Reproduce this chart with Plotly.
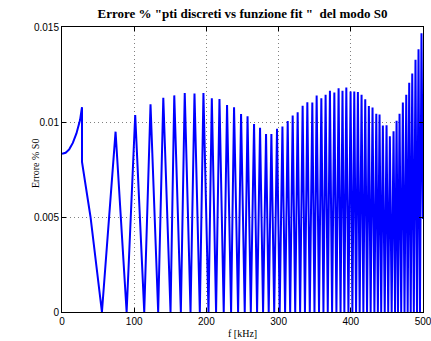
import plotly.graph_objects as go

# frequency [kHz] and error values
f_khz = [0, 5, 10, 15, 20, 25, 27.7, 27.7, 39.5, 55.3,
         74.2, 89.5, 101.4, 113.9, 122.6, 133.2, 140.3, 150.3, 155.5, 164.6,
         170, 178, 183.5, 190.9, 195.9, 202.9, 207.5, 213.4, 218.1, 224,
         228.6, 234.2, 238.3, 243.9, 248, 253.1, 257, 261.5, 266, 270.2,
         274.3, 278.5, 282.6, 286.3, 290, 293.9, 297.8, 301.5, 305.3, 309,
         312.6, 316, 319.5, 323, 326.4, 329.8, 333.3, 336.5, 339.8, 343.2,
         346.7, 349.7, 352.7, 356, 359.2, 362.1, 365.1, 368.1, 371.1, 374.1,
         377.2, 380.1, 383.1, 385.8, 388.5, 391.1, 393.8, 396.7, 399.7, 402.2,
         404.8, 407.3, 409.8, 412.3, 414.9, 417.4, 420, 422.5, 425, 427.5,
         430.1, 432.7, 435.3, 437.5, 439.8, 442.1, 444.4, 447, 449.5, 451.8,
         454.1, 456.6, 459.2, 461.3, 463.4, 465.4, 467.5, 469.8, 472.1, 474.4,
         476.8, 478.8, 480.9, 483, 485.1, 487.3, 489.6, 491.7, 493.8, 495.8,
         497.9, 500]
err_s0 = [0.00832, 0.00838, 0.00856, 0.0089, 0.0094, 0.0101, 0.01078, 0.0079, 0.005, 0.0,
          0.00949, 0.0, 0.01037, 0.0, 0.01093, 0.0, 0.01128, 0.0, 0.0114, 0.0,
          0.01152, 0.0, 0.0115, 0.0, 0.01152, 0.0, 0.01125, 0.0, 0.01121, 0.0,
          0.0109, 0.0, 0.01077, 0.0, 0.01042, 0.0, 0.0103, 0.0, 0.00989, 0.0,
          0.0097, 0.0, 0.00937, 0.0, 0.00937, 0.0, 0.00965, 0.0, 0.00976, 0.0,
          0.01005, 0.0, 0.01034, 0.0, 0.01051, 0.0, 0.01086, 0.0, 0.01104, 0.0,
          0.01102, 0.0, 0.0114, 0.0, 0.01125, 0.0, 0.01144, 0.0, 0.01165, 0.0,
          0.01155, 0.0, 0.01177, 0.0, 0.01165, 0.0, 0.01181, 0.0, 0.0116, 0.0,
          0.0116, 0.0, 0.01158, 0.0, 0.01144, 0.0, 0.0112, 0.0, 0.01084, 0.0,
          0.01076, 0.0, 0.01044, 0.0, 0.0104, 0.0, 0.00981, 0.0, 0.00983, 0.0,
          0.00925, 0.0, 0.00951, 0.0, 0.01007, 0.0, 0.01044, 0.0, 0.01103, 0.0,
          0.01144, 0.0, 0.01207, 0.0, 0.01255, 0.0, 0.01328, 0.0, 0.01383, 0.0,
          0.01467, 0.0049]

x_ticks = [0, 100, 200, 300, 400, 500]
y_ticks = [0, 0.005, 0.01, 0.015]
y_tick_text = ["0", "0.005", "0.01", "0.015"]

SERIF = "Liberation Serif, Times New Roman, serif"
SANS = "Liberation Sans, Arial, sans-serif"

fig = go.Figure()
fig.add_trace(go.Scatter(x=f_khz, y=err_s0, mode="lines",
                         line=dict(color="#0000FF", width=2), showlegend=False))

axis_common = dict(
    showline=True, linecolor="black", linewidth=1, mirror="ticks",
    ticks="inside", ticklen=4, tickcolor="black",
    showgrid=True, gridcolor="#808080", griddash="1px,3px", gridwidth=1,
    zeroline=False, automargin=False, ticklabeloverflow="allow",
    tickfont=dict(family=SANS, size=10, color="black"),
)

fig.update_layout(
    width=431, height=341,
    margin=dict(l=62, r=8, t=27, b=29),
    paper_bgcolor="white", plot_bgcolor="white",
    title=dict(text="<b>Errore % \"pti discreti vs funzione fit \"\u00a0 del modo S0</b>",
               x=(62 + 423) / 2 / 431, xanchor="center", y=1 - 13 / 341, yanchor="middle",
               font=dict(family=SERIF, size=13, color="black")),
    xaxis=dict(range=[0, 500], tickvals=x_ticks, **axis_common),
    yaxis=dict(range=[0, 0.015], tickvals=y_ticks, ticktext=y_tick_text, **axis_common),
    annotations=[
        dict(text="f [kHz]", xref="paper", yref="paper", x=0.5, y=(312 - 333) / 285,
             xanchor="center", yanchor="middle", showarrow=False,
             font=dict(family=SERIF, size=10, color="black")),
        dict(text="Errore % S0", xref="paper", yref="paper", x=(35 - 62) / 361, y=(312 - 164) / 285,
             xanchor="center", yanchor="middle", textangle=-90, showarrow=False,
             font=dict(family=SERIF, size=10, color="black")),
    ],
)

fig.write_html("out.html")
